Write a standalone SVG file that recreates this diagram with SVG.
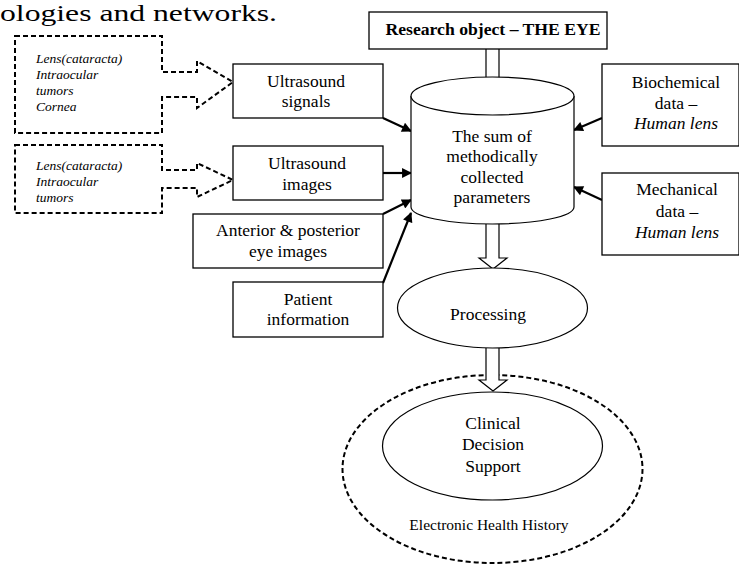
<svg xmlns="http://www.w3.org/2000/svg" width="739" height="565" viewBox="0 0 739 565">
  <style>
    text { font-family: "Liberation Serif", "Times New Roman", serif; fill: #000; }
    .t { font-size: 17.5px; text-anchor: middle; }
    .it { font-style: italic; }
    .src { font-size: 13.5px; font-style: italic; }
    .box { fill: #fff; stroke: #000; stroke-width: 1.3; }
    .dash { fill: #fff; stroke: #000; stroke-width: 2; stroke-dasharray: 5 3; }
    .hollow { fill: #fff; stroke: #000; stroke-width: 1.2; }
    .shape { fill: #fff; stroke: #000; stroke-width: 1.2; }
    .link { fill: none; stroke: #000; stroke-width: 2.2; }
  </style>
  <defs>
    <marker id="head" viewBox="0 0 10 10" refX="9" refY="5" markerWidth="5" markerHeight="4.5" orient="auto" markerUnits="strokeWidth">
      <path d="M0,0 L10,5 L0,10 Z" fill="#000"/>
    </marker>
  </defs>

  <!-- trailing line of the surrounding paragraph -->
  <text x="0" y="21" font-size="23.5" textLength="277" lengthAdjust="spacingAndGlyphs">ologies and networks.</text>

  <!-- outer dashed region -->
  <g id="ehh">
    <ellipse cx="492.5" cy="469" rx="150" ry="94" fill="none" stroke="#000" stroke-width="2" stroke-dasharray="5 3"/>
    <text x="489" y="530" font-size="15.5" text-anchor="middle">Electronic Health History</text>
  </g>

  <g id="connectors">
    <line class="link" x1="383" y1="118" x2="411" y2="131" marker-end="url(#head)"/>
    <line class="link" x1="383" y1="173" x2="411" y2="173" marker-end="url(#head)"/>
    <line class="link" x1="383" y1="214" x2="411" y2="200" marker-end="url(#head)"/>
    <line class="link" x1="383" y1="283" x2="411" y2="213" marker-end="url(#head)"/>
    <line class="link" x1="602" y1="118" x2="574" y2="130" marker-end="url(#head)"/>
    <line class="link" x1="602" y1="200" x2="574" y2="187" marker-end="url(#head)"/>
    <!-- hollow block arrows -->
    <path class="hollow" d="M486,49 V92 H479 L493,105 L507,92 H499 V49"/>
    <path class="hollow" d="M486,224 V258 H479 L493,269 L507,258 H499 V224"/>
    <path class="hollow" d="M486,348 V380 H479 L493,391 L507,380 H499 V348"/>
  </g>

  <g id="source-1">
    <path class="dash" d="M15,36 H162 V72 H197 V61 L233,82 L197,108 V97 H162 V133 H15 Z"/>
    <text class="src" x="36" y="63">Lens(cataracta)</text>
    <text class="src" x="36" y="79">Intraocular</text>
    <text class="src" x="36" y="95">tumors</text>
    <text class="src" x="36" y="111">Cornea</text>
  </g>

  <g id="source-2">
    <path class="dash" d="M15,145 H162 V170 H197 V163 L233,180 L197,197 V188 H162 V213 H15 Z"/>
    <text class="src" x="36" y="170">Lens(cataracta)</text>
    <text class="src" x="36" y="186">Intraocular</text>
    <text class="src" x="36" y="202">tumors</text>
  </g>

  <g id="us-signals">
    <rect class="box" x="233" y="64" width="150" height="54"/>
    <text class="t" x="306" y="87">Ultrasound</text>
    <text class="t" x="306" y="107">signals</text>
  </g>

  <g id="us-images">
    <rect class="box" x="233" y="146" width="150" height="54"/>
    <text class="t" x="307" y="169">Ultrasound</text>
    <text class="t" x="307" y="190">images</text>
  </g>

  <g id="eye-images">
    <rect class="box" x="193" y="214" width="190" height="54"/>
    <text class="t" x="288" y="236">Anterior &amp; posterior</text>
    <text class="t" x="288" y="257">eye images</text>
  </g>

  <g id="patient">
    <rect class="box" x="233" y="282" width="150" height="55"/>
    <text class="t" x="308" y="305">Patient</text>
    <text class="t" x="308" y="325">information</text>
  </g>

  <g id="research-object">
    <rect class="box" x="369" y="12" width="238" height="37"/>
    <text x="493" y="35" font-size="16" font-weight="bold" text-anchor="middle" textLength="215" lengthAdjust="spacingAndGlyphs">Research object – THE EYE</text>
  </g>

  <g id="parameters">
    <path class="shape" d="M411,96 V207 A81.5,17 0 0 0 574,207 V96"/>
    <ellipse class="shape" cx="492.5" cy="96" rx="81.5" ry="19"/>
    <text class="t" x="492" y="142">The sum of</text>
    <text class="t" x="492" y="162">methodically</text>
    <text class="t" x="492" y="183">collected</text>
    <text class="t" x="492" y="203">parameters</text>
  </g>

  <g id="biochemical">
    <rect class="box" x="602" y="64" width="137" height="82"/>
    <text class="t" x="676" y="88">Biochemical</text>
    <text class="t" x="676" y="109">data –</text>
    <text class="t it" x="676" y="129">Human lens</text>
  </g>

  <g id="mechanical">
    <rect class="box" x="602" y="173" width="137" height="82"/>
    <text class="t" x="677" y="195">Mechanical</text>
    <text class="t" x="677" y="217">data –</text>
    <text class="t it" x="677" y="238">Human lens</text>
  </g>

  <g id="processing">
    <ellipse class="shape" cx="492.5" cy="308" rx="95" ry="40"/>
    <text class="t" x="488" y="320">Processing</text>
  </g>

  <g id="cds">
    <ellipse class="shape" cx="492.5" cy="446" rx="110" ry="54"/>
    <text class="t" x="493" y="429">Clinical</text>
    <text class="t" x="493" y="450">Decision</text>
    <text class="t" x="493" y="472">Support</text>
  </g>
</svg>
